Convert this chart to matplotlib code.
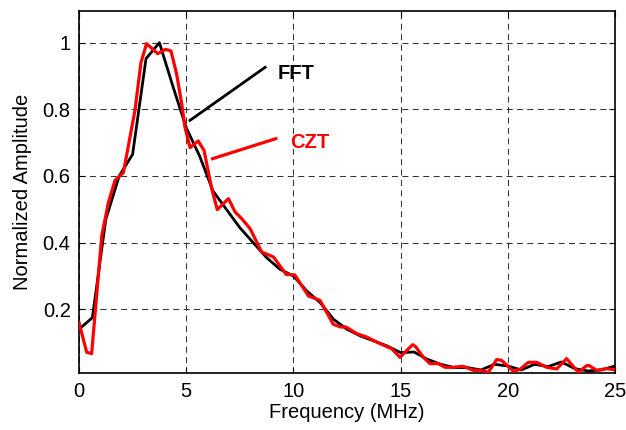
import matplotlib
matplotlib.use("Agg")
import matplotlib.pyplot as plt
import numpy as np

plt.rcParams['font.family'] = ['Liberation Sans', 'DejaVu Sans']
plt.rcParams['lines.scale_dashes'] = False

# FFT (black), sampled every 0.625 MHz
fft_freq = [0.0, 0.625, 1.25, 1.875, 2.5, 3.125, 3.75, 4.375, 5.0, 5.625,
            6.25, 6.875, 7.5, 8.125, 8.75, 9.375, 10.0, 10.625, 11.25, 11.875,
            12.5, 13.125, 13.75, 14.375, 15.0, 15.625, 16.25, 16.875, 17.5, 18.125,
            18.75, 19.375, 20.0, 20.625, 21.25, 21.875, 22.5, 23.125, 23.75, 24.375, 25.0]
fft_amp = [0.14, 0.175, 0.47, 0.60, 0.665, 0.952, 1.0, 0.87, 0.745, 0.66,
           0.555, 0.50, 0.445, 0.40, 0.355, 0.32, 0.30, 0.255, 0.22, 0.17,
           0.14, 0.12, 0.105, 0.09, 0.07, 0.072, 0.05, 0.035, 0.025, 0.025,
           0.018, 0.035, 0.03, 0.018, 0.035, 0.028, 0.042, 0.022, 0.015, 0.018, 0.03]

# CZT (red)
czt_freq = [0.0, 0.36, 0.59, 1.06, 1.37, 1.68, 2.07, 2.61, 2.89, 3.15,
            3.67, 4.04, 4.29, 4.55, 4.79, 4.94, 5.18, 5.56, 5.83, 6.19,
            6.45, 6.97, 7.28, 7.59, 7.98, 8.52, 9.07, 9.66, 10.07, 10.7,
            11.24, 11.86, 12.2, 12.45, 12.95, 13.41, 14.04, 14.58, 14.97, 15.56,
            15.7, 16.06, 16.37, 16.76, 17.07, 17.46, 17.92, 18.39, 18.78, 19.09,
            19.48, 19.71, 20.26, 20.57, 20.96, 21.35, 21.81, 22.28, 22.74, 23.29,
            23.68, 23.8, 24.14, 24.6, 25.0]
czt_amp = [0.16, 0.071, 0.067, 0.42, 0.52, 0.587, 0.61, 0.797, 0.94, 0.997,
           0.967, 0.98, 0.975, 0.907, 0.817, 0.747, 0.685, 0.705, 0.677, 0.562,
           0.499, 0.532, 0.492, 0.472, 0.442, 0.372, 0.357, 0.305, 0.303, 0.24,
           0.227, 0.155, 0.147, 0.147, 0.127, 0.117, 0.097, 0.082, 0.056, 0.094,
           0.088, 0.056, 0.037, 0.037, 0.026, 0.026, 0.029, 0.017, 0.017, 0.011,
           0.049, 0.047, 0.014, 0.02, 0.041, 0.041, 0.026, 0.021, 0.052, 0.011,
           0.031, 0.031, 0.017, 0.022, 0.019]

x_ticks = [0, 5, 10, 15, 20, 25]
y_ticks = [0.2, 0.4, 0.6, 0.8, 1.0]
y_tick_labels = ['0.2', '0.4', '0.6', '0.8', '1']

fig = plt.figure(figsize=(6.26, 4.30), dpi=100)
ax = fig.add_axes([79/626, 1 - 373.3/430, (615-79)/626, (373.3-11)/430])

ax.plot(fft_freq, fft_amp, color='black', lw=2.0, zorder=3)
ax.plot(czt_freq, czt_amp, color='red', lw=2.3, zorder=4)

ax.set_xlim(0, 25)
ax.set_ylim(0.008, 1.095)
ax.set_xticks(x_ticks)
ax.set_xticklabels([str(t) for t in x_ticks])
ax.set_yticks(y_ticks)
ax.set_yticklabels(y_tick_labels)

ax.grid(True, color='0.2', linestyle=(0, (4.3, 3.2)), linewidth=0.75)
ax.tick_params(direction='in', top=True, right=True, length=4, width=0.8,
               labelsize=14.5, pad=6)
for s in ax.spines.values():
    s.set_linewidth(1.2)

ax.set_xlabel('Frequency (MHz)', fontsize=14.5, labelpad=2)
ax.set_ylabel('Normalized Amplitude', fontsize=14.5, labelpad=8)

# annotations
ax.plot([5.18, 8.68], [0.767, 0.926], color='black', lw=2.0, zorder=5)
ax.text(9.28, 0.908, 'FFT', color='black', fontsize=14.5, fontweight='bold',
        va='center', ha='left')
ax.plot([6.23, 9.18], [0.652, 0.712], color='red', lw=2.3, zorder=5)
ax.text(9.84, 0.70, 'CZT', color='red', fontsize=14.5, fontweight='bold',
        va='center', ha='left')

fig.savefig('out.png', dpi=100)
